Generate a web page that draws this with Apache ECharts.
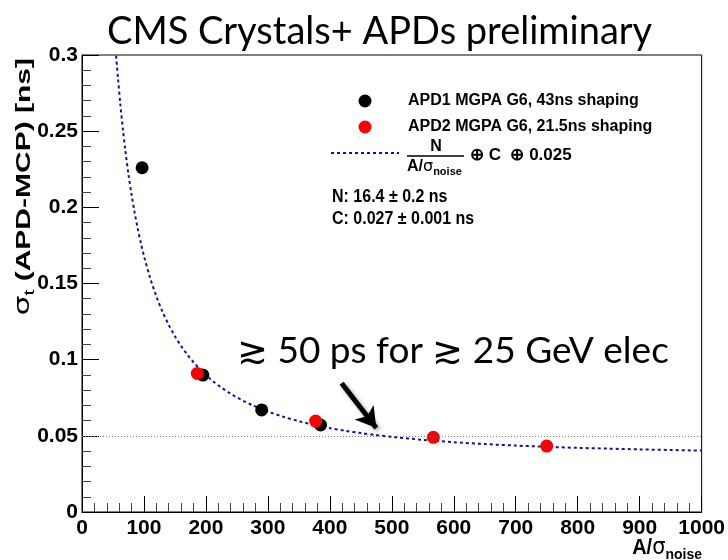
<!DOCTYPE html>
<html>
<head>
<meta charset="utf-8">
<script src="https://cdn.jsdelivr.net/npm/echarts@6/dist/echarts.min.js"></script>
<style>html,body{margin:0;padding:0;background:#fff}#c{width:728px;height:560px}</style>
</head>
<body>
<div id="c"></div>
<script>
// ---- data ----
var apd1Points = [[97, 0.226], [195, 0.0899], [290, 0.0670], [385, 0.0571]];
var apd2Points = [[186, 0.0910], [377, 0.0597], [567, 0.0490], [750, 0.0433]];
var fitCurve = [
  [55, 0.2995], [58, 0.2851], [62, 0.2671], [66, 0.2512], [70, 0.2372], [75, 0.2217],
  [80, 0.2083], [85, 0.1964], [90, 0.1859], [95, 0.1765], [100, 0.1681], [110, 0.1536],
  [120, 0.1415], [130, 0.1314], [140, 0.1228], [150, 0.1154], [160, 0.1089], [170, 0.1033],
  [180, 0.0983], [190, 0.0938], [200, 0.0899], [210, 0.0863], [225, 0.0817], [240, 0.0776],
  [250, 0.0752], [260, 0.0730], [275, 0.0701], [290, 0.0675], [300, 0.0659], [325, 0.0625],
  [350, 0.0596], [375, 0.0572], [400, 0.0551], [425, 0.0533], [450, 0.0518], [475, 0.0505],
  [500, 0.0493], [550, 0.0474], [600, 0.0458], [650, 0.0446], [700, 0.0436], [750, 0.0428],
  [800, 0.0421], [850, 0.0416], [900, 0.0411], [950, 0.0407], [1000, 0.0403]
];
var refLevel = 0.05;
var arrowFrom = [419, 0.0845];
var arrowTo = [475, 0.0551];
var xTicks = [0, 1000, 100];
var yTicks = [0, 0.3, 0.05];
var titleText = 'CMS Crystals+ APDs preliminary';
var noteText = '\u2273 50 ps for \u2273 25 GeV elec';
var legendNames = ['APD1 MGPA G6, 43ns shaping', 'APD2 MGPA G6, 21.5ns shaping', 'fit'];
var fitParams = ['N: 16.4 \u00B1 0.2 ns', 'C: 0.027 \u00B1 0.001 ns'];

var chart = echarts.init(document.getElementById('c'), null, {renderer: 'canvas'});
var AX = 'Liberation Sans';
var option = {
  backgroundColor: '#fff',
  animation: false,
  title: {
    text: titleText, left: 102, top: 8,
    textStyle: {fontFamily: 'Lato', fontWeight: 'normal', fontSize: 38, color: '#000'}
  },
  grid: {left: 82, right: 26, top: 55, bottom: 48, show: true, borderColor: '#000', borderWidth: 1, backgroundColor: 'transparent'},
  legend: {
    orient: 'vertical', left: 325, top: 88, itemWidth: 68, itemHeight: 13, itemGap: 10,
    data: [legendNames[0], legendNames[1], {name: legendNames[2], itemStyle: {opacity: 0}}],
    textStyle: {fontFamily: AX, fontWeight: 'bold', fontSize: 16, color: '#000', padding: [0, 0, 0, 4]},
    formatter: function (n) { return n === 'fit' ? ' ' : n; },
    selectedMode: false
  },
  xAxis: {
    type: 'value', min: xTicks[0], max: xTicks[1], interval: xTicks[2],
    axisLine: {show: true, lineStyle: {color: '#000', width: 1}},
    axisTick: {show: true, inside: true, length: 16, lineStyle: {color: '#000'}},
    minorTick: {show: true, splitNumber: 5, length: 9, lineStyle: {color: '#444'}},
    axisLabel: {fontFamily: AX, fontWeight: 'bold', fontSize: 21, color: '#000', margin: 6,
      formatter: function (v) { return String(v); }},
    splitLine: {show: false}
  },
  yAxis: {
    type: 'value', min: yTicks[0], max: yTicks[1], interval: yTicks[2],
    axisLine: {show: true, lineStyle: {color: '#000', width: 1}},
    axisTick: {show: true, inside: true, length: 17, lineStyle: {color: '#000'}},
    minorTick: {show: true, splitNumber: 5, length: 9, lineStyle: {color: '#444'}},
    axisLabel: {fontFamily: AX, fontWeight: 'bold', fontSize: 21, color: '#000', margin: 4},
    splitLine: {show: false}
  },
  series: [
    {
      name: legendNames[0], type: 'scatter', data: apd1Points, symbol: 'circle', symbolSize: 13,
      itemStyle: {color: '#000', opacity: 1}, z: 3
    },
    {
      name: legendNames[1], type: 'scatter', data: apd2Points, symbol: 'circle', symbolSize: 13,
      itemStyle: {color: '#ff0000', opacity: 1}, z: 4
    },
    {
      name: legendNames[2], type: 'line', data: fitCurve, symbol: 'none', smooth: 0.3,
      lineStyle: {color: '#1010a8', width: 2, type: [3, 3]}, itemStyle: {color: '#1010a8'}, z: 2,
      markLine: {
        silent: true, animation: false,
        data: [
          [{coord: [xTicks[0], refLevel], symbol: 'none', lineStyle: {color: '#777', width: 1, type: [1, 2]}},
           {coord: [xTicks[1], refLevel], symbol: 'none'}],
          [{coord: arrowFrom, symbol: 'none', lineStyle: {color: '#000', width: 5, type: 'solid', shadowColor: 'rgba(0,0,0,0.35)', shadowBlur: 4, shadowOffsetX: 2, shadowOffsetY: 2}},
           {coord: arrowTo, symbol: 'arrow', symbolSize: [18, 20]}]
        ],
        label: {show: false}
      }
    }
  ],
  graphic: [
    // y-axis title
    {
      type: 'text', x: 24, y: 58, rotation: Math.PI / 2, scaleX: 1.5,
      style: {
        text: '{g|\u03C3}{s|t}{n| (APD-MCP) [ns]}', align: 'right', verticalAlign: 'middle',
        rich: {
          g: {fontFamily: 'DejaVu Sans', fontSize: 21, fill: '#000'},
          s: {fontFamily: AX, fontSize: 14, fill: '#000', padding: [12, 0, 0, 0]},
          n: {fontFamily: AX, fontWeight: 'bold', fontSize: 20, fill: '#000'}
        }
      }
    },
    // x-axis title
    {
      type: 'text', x: 702, y: 548, scaleY: 1.1,
      style: {
        text: '{n|A/}{g|\u03C3}{s|noise}', align: 'right', verticalAlign: 'middle',
        rich: {
          n: {fontFamily: AX, fontWeight: 'bold', fontSize: 20, fill: '#000'},
          g: {fontFamily: 'DejaVu Sans', fontSize: 21, fill: '#000'},
          s: {fontFamily: AX, fontWeight: 'bold', fontSize: 14, fill: '#000', padding: [12, 0, 0, 0]}
        }
      }
    },
    // fit formula in legend
    {type: 'text', x: 436, y: 147, style: {text: 'N', align: 'center', verticalAlign: 'middle', fontFamily: AX, fontWeight: 'bold', fontSize: 16, fill: '#000'}},
    {type: 'line', shape: {x1: 407, y1: 156, x2: 464, y2: 156}, style: {stroke: '#000', lineWidth: 1.5}},
    {
      type: 'text', x: 407, y: 167,
      style: {
        text: '{n|A/}{g|\u03C3}{s|noise}', align: 'left', verticalAlign: 'middle',
        rich: {
          n: {fontFamily: AX, fontWeight: 'bold', fontSize: 16, fill: '#000'},
          g: {fontFamily: 'DejaVu Sans', fontSize: 16, fill: '#000'},
          s: {fontFamily: AX, fontWeight: 'bold', fontSize: 11, fill: '#000', padding: [9, 0, 0, 0]}
        }
      }
    },
    {type: 'text', x: 470, y: 155, style: {text: '\u2295 C  \u2295 0.025', align: 'left', verticalAlign: 'middle', fontFamily: AX, fontWeight: 'bold', fontSize: 17, fill: '#000'}},
    {type: 'text', x: 332, y: 197, scaleY: 1.15, style: {text: fitParams[0], align: 'left', verticalAlign: 'middle', fontFamily: AX, fontWeight: 'bold', fontSize: 16, fill: '#000'}},
    {type: 'text', x: 332, y: 219, scaleY: 1.15, style: {text: fitParams[1], align: 'left', verticalAlign: 'middle', fontFamily: AX, fontWeight: 'bold', fontSize: 16, fill: '#000'}},
    // annotation
    {type: 'text', x: 237, y: 351, style: {text: noteText, align: 'left', verticalAlign: 'middle', fontFamily: 'Lato', fontSize: 37, fill: '#000'}}
  ]
};
chart.setOption(option);
</script>
</body>
</html>
